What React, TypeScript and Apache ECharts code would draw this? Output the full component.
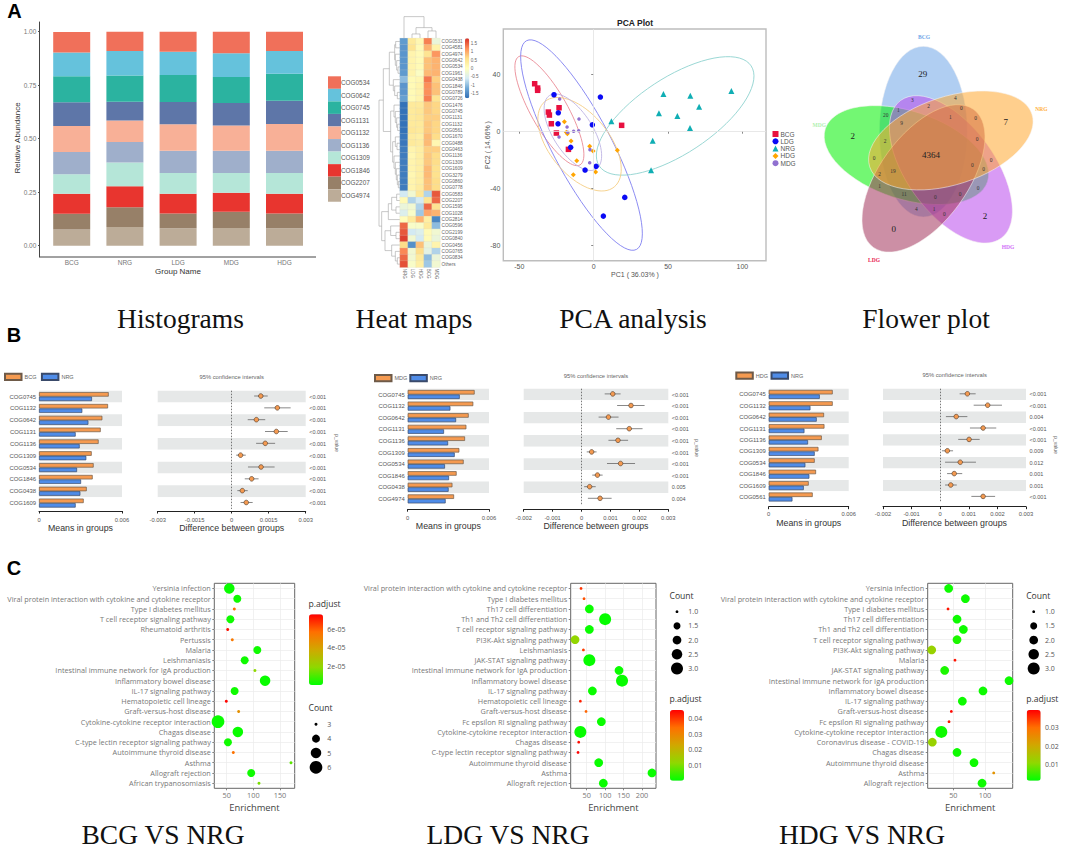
import React, { useEffect, useRef } from "react";
import * as echarts from "echarts";

const SANS = "Liberation Sans";
const SERIF = "Liberation Serif";
const UI = "Open Sans";

// ---------- A: stacked bars
const stackGroups = ["BCG", "NRG", "LDG", "MDG", "HDG"];
const stackNames = ["COG0534", "COG0642", "COG0745", "COG1131", "COG1132", "COG1136", "COG1309", "COG1846", "COG2207", "COG4974"];
const stackColors = ["#F0705A", "#65C2DC", "#2BB3A0", "#5E76A8", "#F8B097", "#9FAFCB", "#B5E6D8", "#E8352F", "#978068", "#BCAC98"];
const stackBCG = [0.095, 0.112, 0.121, 0.111, 0.121, 0.104, 0.092, 0.093, 0.073, 0.076];
const stackNRG = [0.089, 0.115, 0.123, 0.087, 0.101, 0.095, 0.111, 0.098, 0.093, 0.087];
const stackLDG = [0.093, 0.109, 0.126, 0.104, 0.123, 0.104, 0.098, 0.092, 0.069, 0.081];
const stackMDG = [0.101, 0.111, 0.121, 0.106, 0.118, 0.103, 0.093, 0.089, 0.075, 0.083];
const stackHDG = [0.09, 0.107, 0.126, 0.109, 0.125, 0.103, 0.097, 0.093, 0.069, 0.081];

// ---------- A: heat map
const heatCols = ["NRG", "LDG", "HDG", "BCG", "MDG"];
const heatRows = ["COG0531", "COG4581", "COG4974", "COG0642", "COG0534", "COG1961", "COG0438", "COG1846", "COG0789", "COG0726", "COG1476", "COG0745", "COG1131", "COG1132", "COG0561", "COG1670", "COG0488", "COG0463", "COG1136", "COG1309", "COG1609", "COG3279", "COG0860", "COG0778", "COG0583", "COG2207", "COG1595", "COG1028", "COG2814", "COG0596", "COG2199", "COG0840", "COG0456", "COG0765", "COG0834", "Others"];
const heatValues = [
  [-1.3, 0.4, 0.15, 1.25, -0.3], [-1.35, 0.5, 0.1, 0.9, 0.25], [-1.35, 0.2, 0.1, 0.5, 1.1], [-1.35, 0.2, 0.1, 0.8, 0.9],
  [-1.35, 0.2, 0.1, 0.8, 0.9], [-1.3, 0.2, -0.05, 0.85, 0.9], [-1.0, 0.1, 0.15, 1.3, 0.7], [-1.35, 0.1, 0.2, 1.15, 0.8],
  [-1.35, 0.1, 0.2, 1.15, 0.8], [-1.25, 0.1, 0.2, 1.25, 0.5], [-1.7, 0.4, 0.4, 0.75, 0.65], [-1.7, 0.4, 0.45, 0.75, 0.65],
  [-1.7, 0.4, 0.45, 0.7, 0.7], [-1.7, 0.4, 0.4, 0.75, 0.65], [-1.7, 0.45, 0.4, 0.75, 0.65], [-1.65, 0.35, 0.3, 0.85, 0.6],
  [-1.65, 0.4, 0.35, 0.85, 0.15], [-1.6, 0.2, 0.3, 0.7, 0.7], [-1.6, 0.15, 0.3, 0.75, 0.6], [-1.6, 0.2, 0.3, 0.75, 0.6],
  [-1.6, 0.2, 0.3, 0.85, 0.55], [-1.6, 0.15, 0.3, 0.85, 0.55], [-1.6, 0.2, 0.3, 0.8, 0.6], [-1.6, 0.2, 0.35, 0.8, 0.6],
  [-0.6, -0.2, 0.45, -0.8, 1.5], [0.1, -0.8, -0.6, 0.5, 1.4], [-0.3, -0.2, -0.8, 1.4, 0.5], [-0.5, -0.1, -0.9, 1.0, 0.9],
  [0.05, 0.4, 0.9, 0.3, -1.5], [1.4, -0.1, -0.1, 0.4, -1.0], [1.5, -0.6, -0.5, 0.1, -0.2], [1.65, -0.2, -0.6, 0.1, -0.3],
  [0.6, -1.4, 0.8, -0.3, 0.2], [1.2, -0.2, 0.6, -0.4, -0.8], [1.4, -0.2, 0.4, -1.0, -0.3], [1.55, -0.1, 0.3, -0.9, -0.2],
];
const heatPalette = ["#2F6DB5", "#6FA8D6", "#D6ECF4", "#FFFFBF", "#FEE08B", "#FC8D59", "#D73027"];
const heatTicks = ["1.5", "1", "0.5", "0", "-0.5", "-1", "-1.5"];
// dendrograms: [height, left, right]; a number is a leaf index
const rowTree: any = [63,
  [50,
    [32, [16, [13, 0, 1], [14, 2, [10, 3, [6, 4, 5]]]], [20, 6, [16, 7, [8, 8, 9]]]],
    [28, [18, 10, [14, 11, [10, 12, [7, 13, 14]]]], [22, [14, 15, [9, 16, 17]], [18, 18, [14, 19, [11, 20, [8, 21, [5, 22, 23]]]]]]],
  ],
  [55,
    [35, [25, [10, 24, 25], [12, 26, 27]], 28],
    [45, [28, 29, [12, 30, 31]], [25, 32, [14, 33, [8, 34, 35]]]],
  ],
];
const colTree: any = [65, 0, [32, [13, 1, 2], [22, 3, 4]]];

// ---------- A: PCA
const pcaNames = ["BCG", "LDG", "NRG", "HDG", "MDG"];
const pcaColors = ["#E8103F", "#0A0AF5", "#10AEB4", "#FFA500", "#9070D0"];
const pcaSymbols = ["rect", "circle", "triangle", "diamond", "circle"];
const pcaSizes = [5.5, 5.5, 6, 5, 3.5];
const pcaBCG = [[-39.7, 33.2], [-37.7, 30.2], [-37.7, 28.6], [-30.5, 13.4], [-29.8, 11.3], [-23.3, 16.4], [-28.5, 5.2], [-25.1, -1.3], [-17, -12.7], [18.8, 4.1]];
const pcaLDG = [[-26.7, 25.5], [4.5, 23.9], [-23.8, 12.9], [-24, 5.2], [-0.9, 4.5], [-15.5, -11.3], [1.6, -24.6], [-5.8, -27.2], [20.9, -46.3], [6.5, -59.4]];
const pcaNRG = [[46.9, 26], [65, 24.8], [92.6, 28.1], [70.9, 17.1], [43.9, 12.5], [56.3, 10.6], [11.9, 6.9], [64.8, 2.2], [39.7, -6.6], [38.6, -27.4]];
const pcaHDG = [[-19.7, 6.6], [-18.4, -0.8], [-17.7, -1.7], [-15.2, -6.9], [-2.7, -10.6], [-0.4, -13.9], [15.9, -13.4], [-11.4, -20.6], [-13.7, -30.4], [1.3, -28.6]];
const pcaMDG = [[-22.9, 22.5], [-9.9, 8.5], [-17.9, 2.9], [-17.5, -0.8], [-13.5, -0.1], [-10.1, 0.3], [-23.3, -4.1], [-2.5, -12.9], [-2.7, -22]];
// [centre x, centre y, major x, major y, minor x, minor y] in data units
const pcaEllipses = [
  [-29.8, 14.3, 20.6, -37.9, 10.7, 6.3],
  [-8.2, -9.7, 37, -73, 17.5, 9.6],
  [54.8, 10.7, 51.1, 35, 14.1, -22.2],
  [-9.5, -9.1, 23.3, -29.9, 15.6, 13.3],
  [-14, -0.7, 15.7, -25.7, 11.3, 7.5],
];
const pcaEllipseColors = ["#EA8A95", "#7F7FF0", "#8FD3CF", "#F5CE85", "#BDB3E3"];

// ---------- A: flower (petal index: clockwise steps from the top)
const flowerNames = ["BCG", "NRG", "HDG", "LDG", "MDG"];
const flowerColors = ["#6FA5E8", "#FFA830", "#B949EC", "#A2335B", "#00F000"];
const flowerDrawOrder = [0, 4, 2, 3, 1];
const flowerLabelColors = ["#6FA5E8", "#FFB040", "#D070F8", "#E8184F", "#B0F0B0"];
const flowerLabelPos = [[342, 51], [694, 266], [594, 680], [192, 719], [28, 314]];
const flowerBig = [["29", 338, 163], ["7", 587, 305], ["2", 128, 349], ["0", 251, 627], ["2", 525, 588], ["4364", 363, 404]];
const flowerSmall = [["3", 307, 239], ["4", 436, 235], ["2", 356, 258], ["0", 454, 264], ["1", 265, 271], ["20", 227, 285], ["9", 275, 310], ["1", 421, 292], ["0", 497, 295], ["2", 225, 363], ["0", 501, 357], ["0", 192, 415], ["0", 543, 420], ["0", 487, 434], ["2", 209, 463], ["19", 249, 454], ["0", 521, 448], ["1", 209, 497], ["0", 504, 505], ["11", 282, 521], ["0", 376, 530], ["0", 450, 521], ["4", 319, 568], ["1", 372, 568], ["0", 403, 582]];

// ---------- B
const b1Names = ["COG0745", "COG1132", "COG0642", "COG1131", "COG1136", "COG1309", "COG0534", "COG1846", "COG0438", "COG1609"];
const b1A = [0.00504, 0.00499, 0.00458, 0.00446, 0.00431, 0.00381, 0.00395, 0.00388, 0.00345, 0.00323];
const b1B = [0.00383, 0.00313, 0.00357, 0.00265, 0.00294, 0.00342, 0.00275, 0.00304, 0.00299, 0.00265];
const b1Mean = [0.00118, 0.00185, 0.001, 0.00181, 0.00136, 0.00036, 0.00119, 0.00081, 0.00043, 0.00059];
const b1Lo = [0.00091, 0.00132, 0.00065, 0.00135, 0.00099, 0.00018, 0.00066, 0.00053, 0.00023, 0.00036];
const b1Hi = [0.00146, 0.00239, 0.00136, 0.00227, 0.00176, 0.00057, 0.00174, 0.00109, 0.00065, 0.00085];
const b1P = ["<0.001", "<0.001", "<0.001", "<0.001", "<0.001", "<0.001", "<0.001", "<0.001", "<0.001", "<0.001"];

const b2Names = ["COG0745", "COG1132", "COG0642", "COG1131", "COG1136", "COG1309", "COG0534", "COG1846", "COG0438", "COG4974"];
const b2A = [0.00494, 0.00484, 0.0045, 0.00433, 0.00423, 0.00381, 0.00413, 0.00361, 0.0033, 0.00342];
const b2B = [0.00384, 0.00315, 0.00357, 0.00268, 0.00298, 0.00347, 0.00275, 0.00305, 0.00302, 0.0028];
const b2Mean = [0.00108, 0.00171, 0.00093, 0.00165, 0.00126, 0.00035, 0.00135, 0.00055, 0.00028, 0.00064];
const b2Lo = [0.0008, 0.00123, 0.00059, 0.0012, 0.00093, 0.00018, 0.00088, 0.00037, 0.00009, 0.00022];
const b2Hi = [0.00135, 0.00218, 0.00128, 0.00211, 0.00161, 0.00052, 0.00185, 0.00073, 0.00049, 0.00104];
const b2P = ["<0.001", "<0.001", "<0.001", "<0.001", "<0.001", "<0.001", "<0.001", "<0.001", "0.005", "0.004"];

const b3Names = ["COG0745", "COG1132", "COG0642", "COG1131", "COG1136", "COG1309", "COG0534", "COG1846", "COG1609", "COG0561"];
const b3A = [0.0048, 0.0048, 0.00415, 0.00418, 0.00398, 0.00373, 0.00345, 0.00355, 0.003, 0.0033];
const b3B = [0.00383, 0.00313, 0.0036, 0.00268, 0.00295, 0.00345, 0.00275, 0.00305, 0.00263, 0.00178];
const b3Mean = [0.00095, 0.00166, 0.00056, 0.0015, 0.00101, 0.00025, 0.0007, 0.00049, 0.00037, 0.0015];
const b3Lo = [0.00068, 0.00117, 0.0002, 0.00104, 0.00063, 0.00006, 0.00017, 0.00024, 0.00017, 0.00109];
const b3Hi = [0.00124, 0.00216, 0.00095, 0.00196, 0.00138, 0.00045, 0.00125, 0.00077, 0.00058, 0.00192];
const b3P = ["<0.001", "<0.001", "0.004", "<0.001", "<0.001", "0.009", "0.012", "0.001", "0.001", "<0.001"];

// ---------- C
const c1Rows = ["Yersinia infection", "Viral protein interaction with cytokine and cytokine receptor", "Type I diabetes mellitus", "T cell receptor signaling pathway", "Rheumatoid arthritis", "Pertussis", "Malaria", "Leishmaniasis", "Intestinal immune network for IgA production", "Inflammatory bowel disease", "IL-17 signaling pathway", "Hematopoietic cell lineage", "Graft-versus-host disease", "Cytokine-cytokine receptor interaction", "Chagas disease", "C-type lectin receptor signaling pathway", "Autoimmune thyroid disease", "Asthma", "Allograft rejection", "African trypanosomiasis"];
const c1Enrich = [55, 70, 64.4, 57, 52, 60.6, 107.5, 83.8, 103, 122, 65, 49.4, 72.5, 33.8, 71, 52.5, 62.5, 170.6, 96, 110.6];
const c1Count = [5, 4, 3, 4, 3, 3, 4, 4, 3, 5, 4, 3, 3, 6, 5, 4, 3, 3, 4, 3];
const c1P = [0.000001, 0.000002, 5.6e-5, 0.000002, 7.3e-5, 5.4e-5, 0.000002, 0.000002, 1.9e-5, 0.000001, 0.000002, 7.5e-5, 4.6e-5, 0.000001, 0.000001, 0.000002, 5.6e-5, 1.2e-5, 0.000002, 1.6e-5];

const c2Rows = ["Viral protein interaction with cytokine and cytokine receptor", "Type I diabetes mellitus", "Th17 cell differentiation", "Th1 and Th2 cell differentiation", "T cell receptor signaling pathway", "PI3K-Akt signaling pathway", "Leishmaniasis", "JAK-STAT signaling pathway", "Intestinal immune network for IgA production", "Inflammatory bowel disease", "IL-17 signaling pathway", "Hematopoietic cell lineage", "Graft-versus-host disease", "Fc epsilon RI signaling pathway", "Cytokine-cytokine receptor interaction", "Chagas disease", "C-type lectin receptor signaling pathway", "Autoimmune thyroid disease", "Asthma", "Allograft rejection"];
const c2Enrich = [34.6, 42.8, 57.2, 100, 57.2, 18.4, 41, 57.2, 137.6, 145.8, 65.4, 32.8, 48.2, 89.7, 32.8, 28.3, 26.5, 82.5, 227, 95];
const c2Count = [1, 1, 2, 3, 2, 2, 1, 3, 2, 3, 2, 1, 1, 2, 3, 1, 1, 2, 2, 2];
const c2P = [0.04, 0.037, 0.001, 0.0008, 0.001, 0.012, 0.039, 0.0008, 0.001, 0.0008, 0.001, 0.042, 0.035, 0.001, 0.0008, 0.044, 0.045, 0.001, 0.001, 0.001];

const c3Rows = ["Yersinia infection", "Viral protein interaction with cytokine and cytokine receptor", "Type I diabetes mellitus", "Th17 cell differentiation", "Th1 and Th2 cell differentiation", "T cell receptor signaling pathway", "PI3K-Akt signaling pathway", "Malaria", "JAK-STAT signaling pathway", "Intestinal immune network for IgA production", "Inflammatory bowel disease", "IL-17 signaling pathway", "Graft-versus-host disease", "Fc epsilon RI signaling pathway", "Cytokine-cytokine receptor interaction", "Coronavirus disease - COVID-19", "Chagas disease", "Autoimmune thyroid disease", "Asthma", "Allograft rejection"];
const c3Enrich = [42.6, 69, 41.6, 55.8, 65.8, 55.8, 15.8, 52.6, 36.3, 137.9, 96.8, 64.2, 46.8, 43.2, 31, 16.8, 55.8, 82.6, 113.7, 95.3];
const c3Count = [2, 2, 1, 2, 2, 2, 2, 1, 2, 2, 2, 2, 1, 1, 3, 2, 2, 2, 1, 2];
const c3P = [0.002, 0.002, 0.038, 0.002, 0.002, 0.003, 0.012, 0.038, 0.003, 0.002, 0.002, 0.002, 0.039, 0.038, 0.002, 0.012, 0.002, 0.002, 0.024, 0.002];

const countSizeA: Record<string, number> = { 3: 3, 4: 8, 5: 10.5, 6: 12.7 };
const countSizeB: Record<string, number> = { 1: 2.8, 1.5: 7, 2: 8.7, 2.5: 10.5, 3: 12 };
const countTicksB = [1, 1.5, 2, 2.5, 3];
const countLabelsB = ["1.0", "1.5", "2.0", "2.5", "3.0"];
const countTicksA = [3, 4, 5, 6];
const pPalette = ["#00FF00", "#8FD800", "#D0A800", "#FF7000", "#FF0000"];

function buildOption() {
  const grid: any[] = [];
  const xAxis: any[] = [];
  const yAxis: any[] = [];
  const series: any[] = [];
  const legend: any[] = [];
  const visualMap: any[] = [];
  const g: any[] = [];

  const addGrid = (left: number, top: number, width: number, height: number, extra: any = {}) => {
    grid.push({ left, top, width, height, ...extra });
    return grid.length - 1;
  };
  const text = (t: string, x: number, y: number, o: any = {}) => {
    const { rotation, ...style } = o;
    g.push({
      type: "text", x, y, rotation: rotation || 0, silent: true,
      style: { text: t, fontFamily: SANS, fontSize: 7, fill: "#444", align: "center", verticalAlign: "middle", ...style },
    });
  };

  // panel letters and captions
  text("A", 14.5, 10.5, { fontSize: 20, fontWeight: "bold", fill: "#000" });
  text("B", 14, 335, { fontSize: 20, fontWeight: "bold", fill: "#000" });
  text("C", 14, 568, { fontSize: 20, fontWeight: "bold", fill: "#000" });
  const captions: [string, number, number][] = [
    ["Histograms", 180.5, 318], ["Heat maps", 414, 318], ["PCA analysis", 633, 318], ["Flower plot", 926, 318],
    ["BCG VS NRG", 163, 834], ["LDG VS NRG", 508, 834], ["HDG VS NRG", 862, 834],
  ];
  captions.forEach(([t, x, y]) => text(t, x, y, { fontFamily: SERIF, fontSize: 27.5, fill: "#111" }));

  // ---- stacked bars
  const gs = addGrid(45.1, 22, 266, 235);
  xAxis.push({
    gridIndex: gs, type: "category", data: stackGroups,
    axisLine: { show: false }, axisTick: { show: false },
    axisLabel: { fontSize: 6.5, color: "#777", margin: 2, fontFamily: SANS },
  });
  yAxis.push({
    gridIndex: gs, type: "value", min: -0.053, max: 1.045, offset: 5.6,
    axisLine: { show: true, onZero: false, lineStyle: { color: "#444", width: 1 } }, splitLine: { show: false },
    axisTick: { show: true, length: 1.5, lineStyle: { color: "#555" }, customValues: [0, 0.25, 0.5, 0.75, 1] },
    axisLabel: { fontSize: 6.5, color: "#777", margin: 3.2, customValues: [0, 0.25, 0.5, 0.75, 1], formatter: (v: number) => v.toFixed(2) },
  });
  const stackRows = [stackBCG, stackNRG, stackLDG, stackMDG, stackHDG];
  const stackSeries = stackNames.map((name, i) => ({
    type: "bar", name, stack: "s", xAxisIndex: gs, yAxisIndex: gs, barWidth: 37,
    data: stackRows.map((r) => r[i]), itemStyle: { color: stackColors[i] }, silent: true,
  }));
  series.push(...stackSeries.reverse());
  g.push({ type: "line", silent: true, shape: { x1: 39.5, y1: 257, x2: 316, y2: 257 }, style: { stroke: "#444", lineWidth: 1 } });
  legend.push({
    data: stackNames, orient: "vertical", left: 328, top: 76.3, padding: 0, itemWidth: 13, itemHeight: 12.5, itemGap: 0.05,
    icon: "rect", selectedMode: false, textStyle: { fontSize: 6.4, color: "#555", padding: [0, 0, 0, -5], fontFamily: SANS },
  });
  text("Relative Abundance", 17.5, 138, { rotation: Math.PI / 2, fontSize: 8, fill: "#333" });
  text("Group Name", 178, 271, { fontSize: 8, fill: "#333" });

  // ---- heat map
  const gh = addGrid(400, 38.3, 40, 229);
  xAxis.push({
    gridIndex: gh, type: "category", data: heatCols,
    axisLine: { show: false }, axisTick: { show: false },
    axisLabel: { fontSize: 4.5, color: "#666", rotate: -90, margin: 1.5, interval: 0 },
  });
  yAxis.push({
    gridIndex: gh, type: "category", data: heatRows, inverse: true, position: "right",
    axisLine: { show: false }, axisTick: { show: false },
    axisLabel: { fontSize: 4.7, color: "#666", margin: 1.5, interval: 0 },
  });
  const heatData: number[][] = [];
  heatValues.forEach((r, y) => r.forEach((v, x) => heatData.push([x, y, v])));
  const heatIdx = series.length;
  series.push({ type: "heatmap", name: "heat", xAxisIndex: gh, yAxisIndex: gh, data: heatData, silent: true, itemStyle: { borderColor: "#D8D8CC", borderWidth: 0.2 } });
  visualMap.push({
    type: "continuous", seriesIndex: heatIdx, dimension: 2, min: -1.75, max: 1.75, left: 465, top: 38.3, padding: 0,
    itemWidth: 4.3, itemHeight: 60, calculable: false, hoverLink: false, inRange: { color: heatPalette },
  });
  heatTicks.forEach((t, i) => text(t, 470.7, 43.3 + i * 8.4, { fontSize: 4.6, fill: "#666", align: "left" }));

  // dendrograms
  const rowPitch = 229 / heatRows.length;
  const colPitch = 40 / heatCols.length;
  const drawTree = (node: any, leaf: (i: number) => number, vertical: boolean): number => {
    if (typeof node === "number") return leaf(node);
    const [h, a, b] = node;
    const pa = drawTree(a, leaf, vertical);
    const pb = drawTree(b, leaf, vertical);
    const baseA = typeof a === "number" ? 0 : a[0];
    const baseB = typeof b === "number" ? 0 : b[0];
    const pts = vertical
      ? [[pa, 38.3 - baseA / 3], [pa, 38.3 - h / 3], [pb, 38.3 - h / 3], [pb, 38.3 - baseB / 3]]
      : [[400 - baseA / 3, pa], [400 - h / 3, pa], [400 - h / 3, pb], [400 - baseB / 3, pb]];
    g.push({ type: "polyline", silent: true, shape: { points: pts }, style: { stroke: "#A5A5A5", lineWidth: 0.6, fill: "none" } });
    return (pa + pb) / 2;
  };
  drawTree(rowTree, (i) => 38.3 + (i + 0.5) * rowPitch, false);
  drawTree(colTree, (i) => 400 + (i + 0.5) * colPitch, true);

  // ---- PCA
  const gp = addGrid(503.3, 29, 262.7, 231.7, { show: true, borderColor: "#BDBDBD", borderWidth: 1.4, backgroundColor: "#fff" });
  const pcaTick = { show: true, length: 2.5, lineStyle: { color: "#555", width: 0.7 } };
  xAxis.push({
    gridIndex: gp, type: "value", min: -60.8, max: 115.9, splitLine: { show: false }, axisLine: { show: false },
    axisTick: { ...pcaTick, customValues: [-50, 0, 50, 100] },
    axisLabel: { fontSize: 7, color: "#555", margin: 2.5, customValues: [-50, 0, 50, 100] },
  });
  yAxis.push({
    gridIndex: gp, type: "value", min: -90.6, max: 71.5, splitLine: { show: false }, axisLine: { show: false },
    axisTick: { ...pcaTick, customValues: [-80, -40, 0, 40] },
    axisLabel: { fontSize: 7, color: "#555", margin: 3, customValues: [-80, -40, 0, 40] },
  });
  series.push({
    type: "custom", name: "ellipses", xAxisIndex: gp, yAxisIndex: gp, silent: true, clip: false,
    data: pcaEllipses,
    renderItem: (params: any, api: any) => {
      const [cx, cy, ux, uy, vx, vy] = [0, 1, 2, 3, 4, 5].map((i) => api.value(i));
      const points: number[][] = [];
      for (let k = 0; k <= 72; k++) {
        const t = (k / 72) * 2 * Math.PI;
        points.push(api.coord([cx + ux * Math.cos(t) + vx * Math.sin(t), cy + uy * Math.cos(t) + vy * Math.sin(t)]));
      }
      return { type: "polyline", shape: { points }, style: { stroke: pcaEllipseColors[params.dataIndex], lineWidth: 0.9, fill: "none" } };
    },
    markLine: {
      silent: true, symbol: "none", label: { show: false }, animation: false,
      lineStyle: { color: "#E2E2E2", width: 0.8, type: "solid" },
      data: [{ xAxis: 0 }, { yAxis: 0 }],
    },
  });
  [pcaBCG, pcaLDG, pcaNRG, pcaHDG, pcaMDG].forEach((pts, i) => {
    series.push({
      type: "scatter", name: pcaNames[i], xAxisIndex: gp, yAxisIndex: gp, data: pts, silent: true,
      symbol: pcaSymbols[i], symbolSize: pcaSizes[i], itemStyle: { color: pcaColors[i], opacity: 1 },
    });
  });
  legend.push({
    data: pcaNames, orient: "vertical", left: 772.5, top: 130.5, padding: 0, itemWidth: 6, itemHeight: 6, itemGap: 0.3,
    selectedMode: false, textStyle: { fontSize: 6.5, color: "#555", padding: [0, 0, 0, -3], fontFamily: SANS },
  });
  text("PCA Plot", 635, 22.5, { fontSize: 8.5, fontWeight: "bold", fill: "#222" });
  text("PC1 ( 36.03% )", 635, 274, { fontSize: 7, fill: "#555" });
  text("PC2 ( 14.66% )", 487, 145, { rotation: Math.PI / 2, fontSize: 7, fill: "#555" });

  // ---- flower
  const fx = (z: number) => 810 + z / 3;
  const fy = (z: number) => 20 + z / 3;
  flowerDrawOrder.forEach((i) => {
    g.push({
      type: "ellipse", silent: true, x: 931, y: 155, rotation: (-i * 72 * Math.PI) / 180,
      shape: { cx: -7.67, cy: -23.33, rx: 44, ry: 85.3 },
      style: { fill: flowerColors[i], opacity: 0.55, stroke: "#F8F4F2", lineWidth: 0.9 },
    });
  });
  flowerNames.forEach((name, i) => {
    text(name, fx(flowerLabelPos[i][0]), fy(flowerLabelPos[i][1]), { fontFamily: SERIF, fontSize: 5.5, fontWeight: "bold", fill: flowerLabelColors[i] });
  });
  flowerBig.forEach(([t, x, y]) => text(String(t), fx(Number(x)), fy(Number(y)), { fontFamily: SERIF, fontSize: 9, fill: "#222" }));
  flowerSmall.forEach(([t, x, y]) => text(String(t), fx(Number(x)), fy(Number(y)), { fontFamily: SERIF, fontSize: 5.4, fill: "#333" }));

  // ---- B panels
  const bPanel = (o: any) => {
    const stripe = { show: true, interval: 0, areaStyle: { color: ["#E6E8E8", "#FFFFFF"] } };
    const gl = addGrid(o.left, o.top, o.leftW, o.h);
    xAxis.push({
      gridIndex: gl, type: "value", min: 0, max: 0.006, interval: 0.006, offset: o.off,
      splitLine: { show: false },
      axisLine: { show: true, onZero: false, lineStyle: { color: "#222", width: 1 } },
      axisTick: { show: true, length: 2.5, lineStyle: { color: "#222" } },
      axisLabel: { fontSize: 5.8, color: "#555", margin: o.tm, formatter: (v: number) => (v === 0 ? "0" : String(v)) },
      name: "Means in groups", nameLocation: "center", nameGap: o.ng, nameTextStyle: { fontSize: 8.8, color: "#333", fontFamily: SANS },
    });
    yAxis.push({
      gridIndex: gl, type: "category", data: o.names, inverse: true,
      axisLine: { show: false }, axisTick: { show: false }, splitArea: stripe, splitLine: { show: false },
      axisLabel: { fontSize: 5.9, color: "#555", margin: 3, interval: 0 },
    });
    const nameA = `${o.a} vs NRG: ${o.a}`;
    const nameB = `${o.a} vs NRG: NRG`;
    series.push({
      type: "bar", name: nameA, xAxisIndex: gl, yAxisIndex: gl, data: o.valA, barWidth: 4.5, barGap: "0%", silent: true,
      itemStyle: { color: "#F59A50", borderColor: "#6E5A48", borderWidth: 0.7 },
    });
    series.push({
      type: "bar", name: nameB, xAxisIndex: gl, yAxisIndex: gl, data: o.valB, barWidth: 4.5, barGap: "0%", silent: true,
      itemStyle: { color: "#4F8CE8", borderColor: "#3A4A6A", borderWidth: 0.7 },
    });
    legend.push({
      data: [nameA, nameB], left: o.legendLeft, top: o.legendTop, padding: 0, itemWidth: 16.5, itemHeight: 6.2, itemGap: o.legendGap,
      icon: "rect", selectedMode: false, formatter: (n: string) => n.split(": ")[1],
      textStyle: { fontSize: 5.5, color: "#666", padding: [0, 0, 0, -2], fontFamily: SANS },
    });

    const gr = addGrid(o.rLeft, o.top, o.rW, o.h);
    xAxis.push({
      gridIndex: gr, type: "value", min: o.min, max: o.max, interval: o.step, offset: o.off,
      splitLine: { show: false },
      axisLine: { show: true, onZero: false, lineStyle: { color: "#222", width: 1 } },
      axisTick: { show: true, length: 2.5, lineStyle: { color: "#222" } },
      axisLabel: { fontSize: 5.8, color: "#555", margin: o.tm, formatter: (v: number) => (Math.abs(v) < 1e-9 ? "0" : String(+v.toFixed(4))) },
      name: "Difference between groups", nameLocation: "center", nameGap: o.ng, nameTextStyle: { fontSize: 8.8, color: "#333", fontFamily: SANS },
    });
    yAxis.push({
      gridIndex: gr, type: "category", data: o.p, inverse: true, position: "right",
      axisLine: { show: false }, axisTick: { show: false }, splitArea: stripe, splitLine: { show: false },
      axisLabel: { fontSize: 5.5, color: "#555", margin: 3.5, interval: 0 },
    });
    series.push({
      type: "custom", name: `${o.a} CI`, xAxisIndex: gr, yAxisIndex: gr, silent: true,
      data: o.mean.map((m: number, i: number) => [m, o.lo[i], o.hi[i], i]),
      renderItem: (_: any, api: any) => {
        const row = api.value(3);
        const c = api.coord([api.value(0), row]);
        const l = api.coord([api.value(1), row]);
        const h = api.coord([api.value(2), row]);
        const y = c[1] - 0.6;
        return {
          type: "group",
          children: [
            { type: "line", shape: { x1: l[0], y1: y, x2: h[0], y2: y }, style: { stroke: "#555", lineWidth: 0.7 } },
            { type: "circle", shape: { cx: c[0], cy: y, r: 2.3 }, style: { fill: "#F59A50", stroke: "#5A4636", lineWidth: 0.7 } },
          ],
        };
      },
      markLine: {
        silent: true, symbol: "none", label: { show: false }, animation: false,
        lineStyle: { color: "#444", width: 0.7, type: [1.5, 1.5] }, data: [{ xAxis: 0 }],
      },
    });
    text("95% confidence intervals", o.ciX, o.ciY, { fontSize: 5.8, fill: "#666" });
    text("p_value", o.pvX, o.pvY, { rotation: -Math.PI / 2, fontSize: 5, fill: "#666" });
  };
  bPanel({
    left: 39, top: 390.7, leftW: 83, h: 118.3, off: 2, tm: 6, ng: 12.5, names: b1Names, a: "BCG", valA: b1A, valB: b1B,
    rLeft: 157.7, rW: 148, min: -0.003, max: 0.003, step: 0.0015, mean: b1Mean, lo: b1Lo, hi: b1Hi, p: b1P,
    legendLeft: 4, legendTop: 372.8, legendGap: 4.5, ciX: 231.7, ciY: 376.7, pvX: 337, pvY: 443,
  });
  bPanel({
    left: 407.7, top: 388.7, leftW: 81.3, h: 116, off: 4.5, tm: 5.7, ng: 12, names: b2Names, a: "MDG", valA: b2A, valB: b2B,
    rLeft: 523.7, rW: 144.6, min: -0.002, max: 0.003, step: 0.001, mean: b2Mean, lo: b2Lo, hi: b2Hi, p: b2P,
    legendLeft: 374, legendTop: 374, legendGap: 2, ciX: 596, ciY: 375.7, pvX: 696.7, pvY: 448,
  });
  bPanel({
    left: 768.7, top: 388.7, leftW: 80, h: 114, off: 4, tm: 4.5, ng: 11, names: b3Names, a: "HDG", valA: b3A, valB: b3B,
    rLeft: 883, rW: 143, min: -0.002, max: 0.003, step: 0.001, mean: b3Mean, lo: b3Lo, hi: b3Hi, p: b3P,
    legendLeft: 735.3, legendTop: 371.5, legendGap: 2.5, ciX: 954.7, ciY: 375, pvX: 1055.7, pvY: 445,
  });

  // ---- C panels
  const cPanel = (o: any) => {
    const gc = addGrid(o.left, 583.3, o.w, 205, { show: true, borderColor: "#666", borderWidth: 1, backgroundColor: "#fff" });
    const tick = { show: true, length: 2, lineStyle: { color: "#555", width: 0.7 } };
    xAxis.push({
      gridIndex: gc, type: "value", min: o.min, max: o.max,
      axisLine: { show: false },
      axisTick: { ...tick, customValues: o.ticks },
      axisLabel: { fontSize: 7.3, color: "#777", margin: 3.5, customValues: o.ticks, fontFamily: UI },
      splitLine: { show: true, lineStyle: { color: "#EBEBEB", width: 0.7 } },
      name: "Enrichment", nameLocation: "center", nameGap: 15, nameTextStyle: { fontSize: 9.4, color: "#444", fontFamily: UI },
    });
    yAxis.push({
      gridIndex: gc, type: "category", data: o.rows, inverse: true,
      axisLine: { show: false }, axisTick: { ...tick, alignWithLabel: true },
      axisLabel: { fontSize: 7.3, color: "#777", margin: 3.5, interval: 0, fontFamily: UI },
      splitLine: { show: true, alignWithLabel: true, interval: 0, lineStyle: { color: "#EBEBEB", width: 0.7 } },
    });
    const idx = series.length;
    series.push({
      type: "scatter", name: o.name, xAxisIndex: gc, yAxisIndex: gc, silent: true, clip: false, z: 5,
      data: o.enrich.map((e: number, i: number) => [e, i, o.p[i], o.count[i]]),
      symbolSize: (v: number[]) => o.sizes[v[3]],
      itemStyle: { opacity: 1 },
    });
    visualMap.push({
      type: "continuous", seriesIndex: idx, dimension: 2, min: o.pMin, max: o.pMax, left: o.barX, top: o.barTop, padding: 0,
      itemWidth: 14, itemHeight: o.barH, calculable: false, hoverLink: false, inRange: { color: pPalette },
    });
    text("p.adjust", o.barX - 0.5, o.pTitleY, { align: "left", fontFamily: UI, fontSize: 8.6, fill: "#333" });
    o.pTicks.forEach(([t, y]: [string, number]) => {
      text(t, o.barX + 18.3, y, { align: "left", fontFamily: UI, fontSize: 7, fill: "#555" });
      g.push({ type: "line", silent: true, shape: { x1: o.barX, y1: y, x2: o.barX + 2.8, y2: y }, style: { stroke: "#fff", lineWidth: 0.5 } });
      g.push({ type: "line", silent: true, shape: { x1: o.barX + 11.2, y1: y, x2: o.barX + 14, y2: y }, style: { stroke: "#fff", lineWidth: 0.5 } });
    });
    text("Count", o.barX - 0.5, o.cTitleY, { align: "left", fontFamily: UI, fontSize: 8.6, fill: "#333" });
    o.cTicks.forEach((c: number, i: number) => {
      const y = o.cY0 + i * o.cStep;
      g.push({ type: "circle", silent: true, shape: { cx: o.barX + 7, cy: y, r: o.sizes[c] / 2 }, style: { fill: "#000" } });
      text(o.cLabels[i], o.barX + 18.3, y, { align: "left", fontFamily: UI, fontSize: 7, fill: "#555" });
    });
  };
  cPanel({
    left: 214.3, w: 80.4, min: 26.9, max: 177.5, ticks: [50, 100, 150], rows: c1Rows, enrich: c1Enrich, count: c1Count, p: c1P, name: "BCG VS NRG",
    sizes: countSizeA, pMin: 0, pMax: 7.57e-5, barX: 309, barTop: 614.3, barH: 70.7, pTitleY: 603.5,
    pTicks: [["6e-05", 629], ["4e-05", 647.7], ["2e-05", 666.3]], cTitleY: 708, cTicks: countTicksA, cLabels: ["3", "4", "5", "6"], cY0: 724.3, cStep: 14.35,
  });
  cPanel({
    left: 570.7, w: 85.3, min: 6.6, max: 237.9, ticks: [50, 100, 150, 200], rows: c2Rows, enrich: c2Enrich, count: c2Count, p: c2P, name: "LDG VS NRG",
    sizes: countSizeB, pMin: 0.0003, pMax: 0.0451, barX: 670, barTop: 710, barH: 70.7, pTitleY: 699.3,
    pTicks: [["0.04", 718], ["0.03", 734], ["0.02", 749.7], ["0.01", 765.3]], cTitleY: 595.7, cTicks: countTicksB, cLabels: countLabelsB, cY0: 611.7, cStep: 14.2,
  });
  cPanel({
    left: 927.7, w: 85, min: 9.5, max: 143.7, ticks: [50, 100], rows: c3Rows, enrich: c3Enrich, count: c3Count, p: c3P, name: "HDG VS NRG",
    sizes: countSizeB, pMin: 0.0011, pMax: 0.0396, barX: 1026.7, barTop: 710, barH: 70.7, pTitleY: 699.3,
    pTicks: [["0.03", 727.7], ["0.02", 746], ["0.01", 764.3]], cTitleY: 595.7, cTicks: countTicksB, cLabels: countLabelsB, cY0: 611.7, cStep: 14.2,
  });

  return {
    animation: false,
    backgroundColor: "#fff",
    textStyle: { fontFamily: SANS },
    tooltip: { show: false },
    grid, xAxis, yAxis, series, legend, visualMap,
    graphic: { elements: g },
  };
}

export default function App() {
  const ref = useRef<HTMLDivElement>(null);
  useEffect(() => {
    const chart = echarts.init(ref.current!, undefined, { renderer: "svg" });
    chart.setOption(buildOption());
    return () => chart.dispose();
  }, []);
  return <div ref={ref} style={{ position: "absolute", left: 0, top: 0, width: 1065, height: 849, background: "#fff" }} />;
}
